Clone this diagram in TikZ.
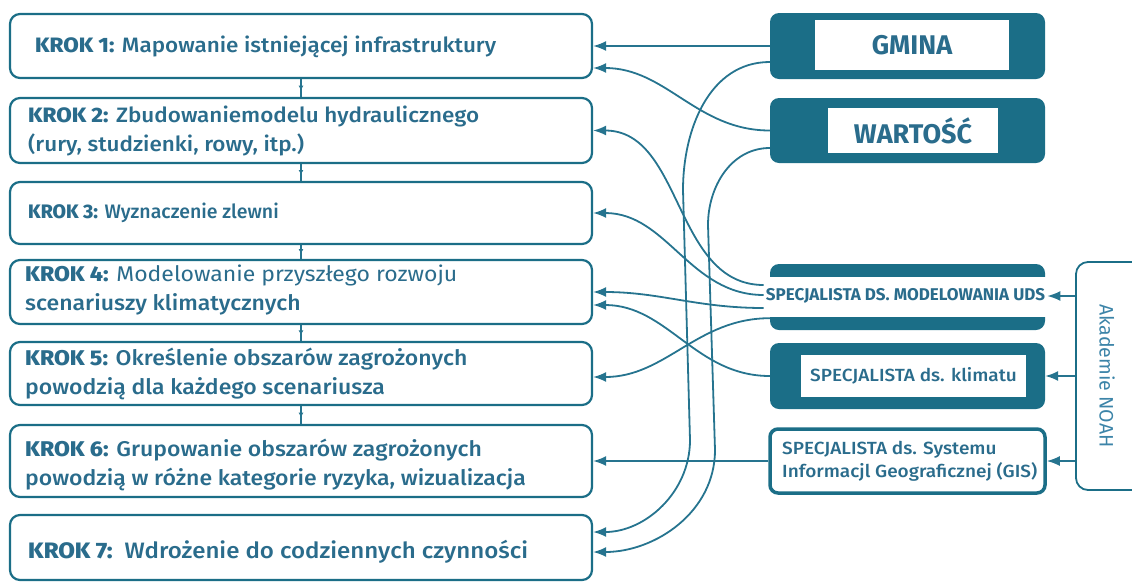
\documentclass[tikz,border=0pt]{standalone}
\usepackage{fontspec}
\setmainfont{Fira Sans}
\IfFontExistsTF{Fira Sans Medium}{\newfontfamily\medfont{Fira Sans Medium}[FakeStretch=1.08]\newfontfamily\medplain{Fira Sans Medium}}{\newfontfamily\medfont{Fira Sans}[FakeStretch=1.08]\newfontfamily\medplain{Fira Sans}}
\newfontfamily\regfont{Fira Sans}[FakeStretch=1.08]
\usetikzlibrary{arrows.meta,calc,decorations.markings}
\definecolor{tealdark}{RGB}{27,110,135}
\definecolor{tealline}{RGB}{38,116,143}
\definecolor{tealtext}{RGB}{42,108,140}
\definecolor{akadtext}{RGB}{60,132,168}
\begin{document}
\begin{tikzpicture}[x=1pt,y=-1pt,
  stepbox/.style={draw=tealdark,line width=2.2pt,rounded corners=10pt,minimum width=582pt,inner sep=0pt,fill=white},
  steptext/.style={anchor=west,text=tealtext,inner sep=0pt,align=left,font=\medfont\fontsize{21.3}{29.5}\selectfont},
  darkbox/.style={fill=tealdark,rounded corners=9pt,minimum width=275pt,inner sep=0pt},
  whitein/.style={fill=white,inner sep=0pt,text=tealtext},
  conn/.style={draw=tealline,line width=1.8pt,-{Latex[length=13pt,width=10pt]}},
  smallconn/.style={draw=tealline,line width=1.3pt,postaction={decorate},
    decoration={markings,mark=at position 0.65 with {\arrow{Latex[length=5pt,width=5pt]}}}}
]
\useasboundingbox (0,0) rectangle (1132,582);
% left step boxes
\node[stepbox,minimum height=64pt] (b1) at (301,46) {};
\node[stepbox,minimum height=65pt] (b2) at (301,130.5) {};
\node[stepbox,minimum height=62pt] (b3) at (301,213) {};
\node[stepbox,minimum height=64pt] (b4) at (301,292) {};
\node[stepbox,minimum height=63pt] (b5) at (301,373.5) {};
\node[stepbox,minimum height=72pt] (b6) at (301,461) {};
\node[stepbox,minimum height=65pt] (b7) at (301,547.5) {};
\node[steptext,font=\medfont\fontsize{20.8}{29.5}\selectfont] (t1) at (35,47) {\textbf{KROK 1:} Mapowanie istniejącej infrastruktury};
\node[steptext,font=\medfont\fontsize{20.8}{29.5}\selectfont] (t2) at (28,131) {\textbf{KROK 2:} Zbudowaniemodelu hydraulicznego\\(rury, studzienki, rowy, itp.)};
\node[steptext,font=\medplain\fontsize{19.5}{24}\selectfont] (t3) at (28,213) {\textbf{KROK 3:} Wyznaczenie zlewni};
\node[steptext] (t4) at (25,290) {\textbf{KROK 4:} {\regfont Modelowanie przyszłego rozwoju}\\scenariuszy klimatycznych};
\node[steptext] (t5) at (25,374) {\textbf{KROK 5:} Określenie obszarów zagrożonych\\powodzią dla każdego scenariusza};
\node[steptext] (t6) at (25,465) {\textbf{KROK 6:} Grupowanie obszarów zagrożonych\\powodzią w różne kategorie ryzyka, wizualizacja};
\node[steptext,font=\medfont\fontsize{22.3}{26}\selectfont] (t7) at (28,552) {\textbf{KROK 7:}\ \ Wdrożenie do codziennych czynności};
\draw[smallconn] (b1.south) -- (b2.north);
\draw[smallconn] (b2.south) -- (b3.north);
\draw[smallconn] (b3.south) -- (b4.north);
\draw[smallconn] (b4.south) -- (b5.north);
\draw[smallconn] (b5.south) -- (b6.north);
% right boxes
\node[darkbox,minimum height=66pt] (gmina) at (907.5,46) {};
\node[whitein,minimum width=194pt,minimum height=50pt,font=\fontsize{27}{29}\selectfont\bfseries] (gminain) at (912,45) {GMINA};
\node[darkbox,minimum height=65pt] (wart) at (907.5,130.5) {};
\node[whitein,minimum width=170pt,minimum height=45pt,font=\fontsize{27}{29}\selectfont\bfseries] (wartin) at (913,130.5) {WARTOŚĆ};
\node[darkbox,minimum height=66pt] (uds) at (907.5,297) {};
\node[fill=white,minimum width=295pt,minimum height=40pt,inner sep=0pt] (udsstrip) at (907.5,297) {};
\node[text=tealtext,inner sep=2pt,font=\fontsize{17}{18}\selectfont\bfseries] (udst) at (905.5,296) {SPECJALISTA DS. MODELOWANIA UDS};
\node[darkbox,minimum height=66pt] (klim) at (907.5,376) {};
\node[whitein,minimum width=225pt,minimum height=42pt,font=\medfont\fontsize{17.6}{21}\selectfont] (klimin) at (913.5,376) {SPECJALISTA ds. klimatu};
\node[draw=tealdark,line width=3.5pt,fill=white,rounded corners=8pt,minimum width=275pt,minimum height=64pt,inner sep=0pt] (gis) at (907.5,461) {};
\node[anchor=west,text=tealtext,align=left,inner sep=0pt,font=\medfont\fontsize{17.6}{23}\selectfont] (gist) at (782,461) {SPECJALISTA ds. Systemu\\Informacjl Geograficznej (GIS)};
\node[draw=tealdark,line width=1.8pt,rounded corners=12pt,minimum width=70pt,minimum height=228pt,inner sep=0pt] (akad) at (1111,376) {};
\node[rotate=-90,text=akadtext,font=\fontsize{19.5}{21}\selectfont] (akadt) at (1107,376) {Akademie NOAH};
% Akademie arrows
\draw[conn] (akad.west |- udst.east) -- (udst.east);
\draw[conn] (akad.west |- klim.east) -- (klim.east);
\draw[conn] (akad.west |- gis.east) -- (gis.east);
% connectors to steps
\draw[conn] (gmina.west) -- (b1.east);
\draw[conn] ($(gmina.west)+(0,16)$) to[out=180,in=90] (683,190) -- (690,440) to[out=-90,in=0] ($(b7.east)+(0,-15.5)$);
\draw[conn] (wart.west) to[out=180,in=0] ($(b1.east)+(0,22)$);
\draw[conn] ($(wart.west)+(0,17.5)$) to[out=180,in=90] (708,225) -- (715,450) to[out=-90,in=0] ($(b7.east)+(0,4.5)$);
\draw[conn] ($(udst.west)+(0,-11)$) to[out=180,in=0] (b2.east);
\draw[conn] ($(udst.west)+(0,-1)$) to[out=180,in=0] (b3.east);
\draw[conn] ($(udst.west)+(0,12)$) to[out=180,in=0] (b4.east);
\draw[conn] ($(uds.south west)+(0,-12)$) to[out=180,in=0] ($(b5.east)+(0,3.5)$);
\draw[conn] (klim.west) to[out=180,in=0] ($(b4.east)+(0,13)$);
\draw[conn] (gis.west) -- (b6.east);
\end{tikzpicture}
\end{document}
